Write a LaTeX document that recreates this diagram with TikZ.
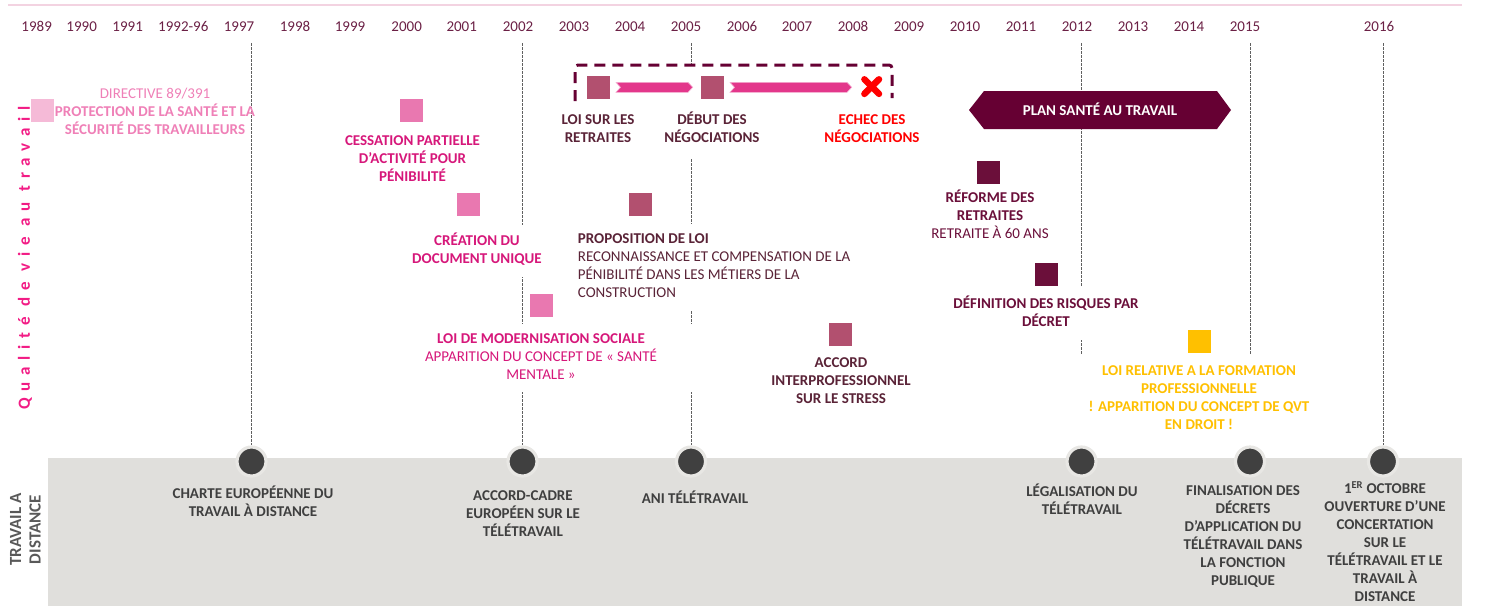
\documentclass[tikz,border=0pt]{standalone}
\usepackage{fontspec}
\setmainfont{Carlito}
\definecolor{yearc}{HTML}{6B2045}
\definecolor{topline}{HTML}{F3D3E1}
\definecolor{pinkA}{HTML}{EF80B7}
\definecolor{sqlight}{HTML}{F5BAD7}
\definecolor{sqpink}{HTML}{E978B0}
\definecolor{magent}{HTML}{D6177A}
\definecolor{mauve}{HTML}{B2506F}
\definecolor{darktxt}{HTML}{5A2337}
\definecolor{wine}{HTML}{6B0F3A}
\definecolor{planc}{HTML}{660033}
\definecolor{arrowpink}{HTML}{E3378B}
\definecolor{redx}{HTML}{FF0000}
\definecolor{yel}{HTML}{FFC000}
\definecolor{bandc}{HTML}{E0DFDC}
\definecolor{dotc}{HTML}{404040}
\definecolor{ringc}{HTML}{E8E7E4}
\definecolor{btc}{HTML}{3F3F3F}
\definecolor{tdgray}{HTML}{595959}
\definecolor{qvtpink}{HTML}{F21C85}
\definecolor{vgray}{HTML}{606060}
\newcommand\tcen[1]{\begin{tabular}{@{}c@{}}#1\end{tabular}}
\newcommand\tlef[1]{\begin{tabular}{@{}l@{}}#1\end{tabular}}
\tikzset{
  yr/.style={font=\fontsize{15}{18}\selectfont, text=yearc, inner sep=0pt},
  lbl/.style={font=\fontsize{15}{18}\selectfont\bfseries, inner sep=0pt},
  btxt/.style={lbl, text=btc},
  sq/.style={minimum size=23pt, inner sep=0pt},
  vline/.style={draw=vgray, line width=0.8pt, dash pattern=on 2.5pt off 1.5pt},
  dot/.style={circle, fill=dotc, draw=ringc, line width=3.2pt, minimum size=29pt, inner sep=0pt},
  chev/.style={fill=arrowpink, draw=arrowpink!40, line width=0.6pt},
  xmark/.style={draw=redx, line width=6.5pt, line cap=round},
  boxline/.style={draw=planc, line width=3pt, dash pattern=on 11pt off 7pt, rounded corners=3pt},
}
\begin{document}
\begin{tikzpicture}[x=1pt,y=-1pt]
\useasboundingbox (0,0) rectangle (1486,606);
% top line
\draw[topline, line width=1.5pt] (8,5) -- (1462,5);
% years
\foreach \yy/\xx [count=\i] in {1989/36.7,1990/81.7,1991/127.7,1992-96/183.3,1997/239,1998/295,1999/350,2000/406.7,2001/461.7,2002/518,2003/574,2004/630,2005/686,2006/742,2007/797,2008/853,2009/909,2010/965,2011/1021,2012/1077,2013/1133,2014/1189,2015/1245,2016/1379}
  \node[yr] (yr\i) at (\xx,26.7) {\yy};
% band
\fill[bandc] (48,458) rectangle (1462,606);
% dots and dashed verticals
\foreach \nm/\xx in {a/251.5,b/522.5,c/691,d/1081.5,e/1250,f/1383}{
  \coordinate (t\nm) at (\xx,43);
  \node[dot] (c\nm) at (\xx,461.5) {};
  \draw[vline] (t\nm) -- (c\nm.north);
}
% dashed box
\fill[white] (575,65) rectangle (892,102);
\draw[boxline] (575,101) -- (575,65) -- (892,65) -- (892,98);
% squares
\node[sq, fill=sqlight] (s1989) at (42.5,110) {};
\node[sq, fill=sqpink] (s2000) at (411,110) {};
\node[sq, fill=sqpink] (s2001) at (468.5,204.5) {};
\node[sq, fill=sqpink] (s2002) at (541.5,305) {};
\node[sq, fill=mauve] (s2003) at (598,87) {};
\node[sq, fill=mauve] (s2005) at (712.5,87) {};
\node[sq, fill=mauve] (s2004) at (640.5,204.5) {};
\node[sq, fill=mauve] (s2008) at (840.5,334) {};
\node[sq, fill=wine] (s2010) at (988,172.5) {};
\node[sq, fill=wine] (s2011) at (1046,274) {};
\node[sq, fill=yel] (s2014) at (1199,341) {};
% chevron arrows
\path[chev] (616,82.3) -- (688,82.3) -- (692.7,87.3) -- (688,92.3) -- (616,92.3) -- (620.5,87.3) -- cycle;
\path[chev] (730,82.3) -- (847,82.3) -- (851.7,87.3) -- (847,92.3) -- (730,92.3) -- (734.5,87.3) -- cycle;
% red cross
\draw[xmark] (864.4,79.3) -- (879,93.9);
\draw[xmark] (879,79.3) -- (864.4,93.9);
% plan sante
\fill[planc] (969,110) -- (984,91) -- (1217,91) -- (1231,110) -- (1217,129) -- (984,129) -- cycle;
\node[lbl, text=white] (tplan) at (1100,111.7) {\tcen{PLAN SANTÉ AU TRAVAIL}};
% labels
\node[lbl, text=pinkA] (tdir) at (155,113) {\tcen{\mdseries DIRECTIVE 89/391\\PROTECTION DE LA SANTÉ ET LA\\SÉCURITÉ DES TRAVAILLEURS}};
\node[lbl, text=magent] (tcess) at (412.5,160.3) {\tcen{CESSATION PARTIELLE\\D’ACTIVITÉ POUR\\PÉNIBILITÉ}};
\node[lbl, text=magent, fill=white, inner ysep=8pt, inner xsep=2pt] (tcrea) at (477,250.8) {\tcen{CRÉATION DU\\DOCUMENT UNIQUE}};
\node[lbl, text=magent, fill=white, inner ysep=7pt, minimum width=304pt] (tloi) at (541,358.3) {\tcen{LOI DE MODERNISATION SOCIALE\\\mdseries APPARITION DU CONCEPT DE « SANTÉ\\\mdseries MENTALE »}};
\node[lbl, text=darktxt] (tlsr) at (598,130.3) {\tcen{LOI SUR LES\\RETRAITES}};
\node[lbl, text=darktxt, fill=white, minimum height=58pt] (tdeb) at (712,130.3) {\tcen{DÉBUT DES\\NÉGOCIATIONS}};
\node[lbl, text=redx] (tech) at (872,130.3) {\tcen{ECHEC DES\\NÉGOCIATIONS}};
\node[lbl, text=darktxt, fill=white, anchor=west, inner xsep=0pt, inner ysep=7pt] (tprop) at (577.7,266.8) {\tlef{PROPOSITION DE LOI\\\mdseries RECONNAISSANCE ET COMPENSATION DE LA\\\mdseries PÉNIBILITÉ DANS LES MÉTIERS DE LA\\\mdseries CONSTRUCTION}};
\node[lbl, text=darktxt] (tacc) at (841,381.8) {\tcen{ACCORD\\INTERPROFESSIONNEL\\SUR LE STRESS}};
\node[lbl, text=wine] (tref) at (990,217) {\tcen{RÉFORME DES\\RETRAITES\\\mdseries RETRAITE À 60 ANS}};
\node[lbl, text=wine, fill=white, inner ysep=8.5pt] (tdef) at (1046,313.4) {\tcen{DÉFINITION DES RISQUES PAR\\DÉCRET}};
\node[lbl, text=yel, fill=white, inner ysep=9.5pt, minimum width=242pt] (tqvt) at (1199,399.3) {\tcen{LOI RELATIVE A LA FORMATION\\PROFESSIONNELLE\\! APPARITION DU CONCEPT DE QVT\\EN DROIT !}};
% bottom labels
\node[btxt] (bcharte) at (253,503.6) {\tcen{CHARTE EUROPÉENNE DU\\TRAVAIL À DISTANCE}};
\node[btxt] (baccord) at (523,515) {\tcen{ACCORD-CADRE\\EUROPÉEN SUR LE\\TÉLÉTRAVAIL}};
\node[btxt] (bani) at (695,500) {\tcen{ANI TÉLÉTRAVAIL}};
\node[btxt] (blegal) at (1082,502.3) {\tcen{LÉGALISATION DU\\TÉLÉTRAVAIL}};
\node[btxt] (bfinal) at (1243,537.3) {\tcen{FINALISATION DES\\DÉCRETS\\D’APPLICATION DU\\TÉLÉTRAVAIL DANS\\LA FONCTION\\PUBLIQUE}};
\node[btxt] (boct) at (1385,543.8) {\tcen{1\textsuperscript{ER} OCTOBRE\\OUVERTURE D’UNE\\CONCERTATION\\SUR LE\\TÉLÉTRAVAIL ET LE\\TRAVAIL À\\DISTANCE}};
% side titles
\node[font=\fontsize{17}{20}\selectfont\bfseries\addfontfeatures{LetterSpace=40}, text=qvtpink, rotate=90, inner sep=0pt] (tqual) at (25,258) {Qualité de vie au travail};
\node[font=\fontsize{17}{19.5}\selectfont\bfseries, text=tdgray, rotate=90, inner sep=0pt] (ttrav) at (27,529.5) {\tcen{TRAVAIL A\\DISTANCE}};
\end{tikzpicture}
\end{document}
